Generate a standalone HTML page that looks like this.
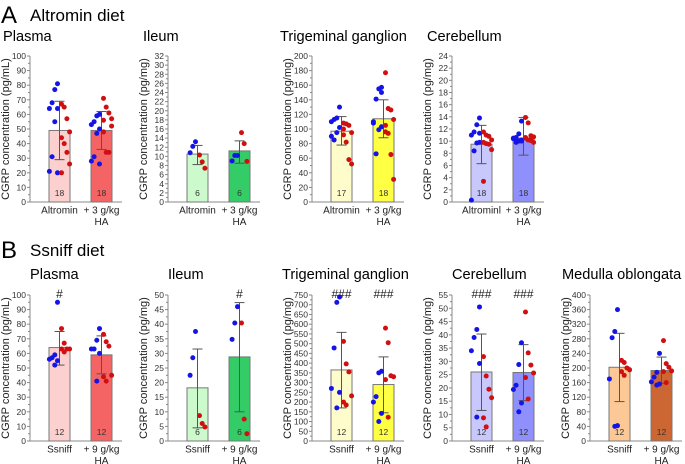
<!DOCTYPE html>
<html><head><meta charset="utf-8"><style>
body{margin:0;background:#fff;}
svg{display:block;font-family:"Liberation Sans",sans-serif;}
</style></head><body>
<svg id="s" width="685" height="464" xmlns="http://www.w3.org/2000/svg"></svg>
<script>
var S=document.getElementById('s');var h='';
function t(x,y,s,fs,extra){h+='<text x="'+x+'" y="'+y+'" font-size="'+fs+'" '+(extra||'')+'>'+s+'</text>';}
t(1,23,'A',24);t(30,21,'Altromin diet',17);
t(1,258,'B',24);t(30,256,'Ssniff diet',17);
function panel(o){
 var ax=o.ax,top=o.top,bot=o.bot,max=o.max,unit=o.unit;
 var sc=function(v){return bot-(v/max)*(bot-top);};
 t(o.tx,o.ty,o.title,14.6);
 h+='<line x1="'+ax+'" y1="'+top+'" x2="'+ax+'" y2="'+bot+'" stroke="#888" stroke-width="1"/>';
 h+='<line x1="'+ax+'" y1="'+bot+'" x2="'+(ax+92)+'" y2="'+bot+'" stroke="#888" stroke-width="1"/>';
 for(var v=0;v<=max+1e-9;v+=o.step){var y=sc(v);
  h+='<line x1="'+(ax-3)+'" y1="'+y+'" x2="'+ax+'" y2="'+y+'" stroke="#888"/>';
  t(ax-4,y+3,Math.round(v*10)/10,8.5,'text-anchor="end" fill="#333"');
  if(v+o.step/2<max){var y2=sc(v+o.step/2);h+='<line x1="'+(ax-2)+'" y1="'+y2+'" x2="'+ax+'" y2="'+y2+'" stroke="#888"/>';}
 }
 var cy=(top+bot)/2;
 t(ax-21,cy,'CGRP concentration ('+unit+')',11,'text-anchor="middle" transform="rotate(-90 '+(ax-21)+' '+cy+')" fill="#222"');
 o.bars.forEach(function(b,i){
  var x0=ax+19+i*42,w=21,c=x0+w/2;
  h+='<rect x="'+x0+'" y="'+sc(b.m)+'" width="'+w+'" height="'+(bot-sc(b.m))+'" fill="'+b.c+'" stroke="#777" stroke-width="1"/>';
  h+='<line x1="'+c+'" y1="'+sc(b.lo)+'" x2="'+c+'" y2="'+sc(b.hi)+'" stroke="#555"/>';
  h+='<line x1="'+(c-5)+'" y1="'+sc(b.lo)+'" x2="'+(c+5)+'" y2="'+sc(b.lo)+'" stroke="#555"/>';
  h+='<line x1="'+(c-5)+'" y1="'+sc(b.hi)+'" x2="'+(c+5)+'" y2="'+sc(b.hi)+'" stroke="#555"/>';
  b.bl.forEach(function(v,j){h+='<circle cx="'+(c-2-(j%4)*2.7)+'" cy="'+sc(v)+'" r="2.5" fill="#1414e6"/>';});
  b.rd.forEach(function(v,j){h+='<circle cx="'+(c+2+(j%4)*2.7)+'" cy="'+sc(v)+'" r="2.5" fill="#d01010"/>';});
  t(c,bot-6,b.n,8.5,'text-anchor="middle" fill="#333"');
  if(b.hash)t(c,top+3,b.hash,12,'text-anchor="middle" fill="#222"');
  var labs=i==0?[o.l0]:[o.l1,'HA'];
  labs.forEach(function(s,k){t(c,bot+11.5+k*11.5,s,10,'text-anchor="middle" fill="#222"');});
 });
}
var A0='Altromin',A1='+ 3 g/kg',B0='Ssniff',B1='+ 9 g/kg';
var aT=56,aB=202,bT=295,bB=441;
panel({ax:30,top:aT,bot:aB,max:100,step:10,unit:'pg/mL',title:'Plasma',tx:3,ty:41,l0:A0,l1:A1,bars:[
 {m:49,lo:29,hi:69,c:'#fdd0d0',n:18,bl:[81,77,68,64,64,55,31,21,20],rd:[67,65,57,48,44,40,34,26,20]},
 {m:49,lo:36,hi:62,c:'#f46464',n:18,bl:[60,59,55,53,50,47,31,28,26],rd:[71,65,61,57,56,34,34,52,48]}]});
panel({ax:168,top:aT,bot:aB,max:32,step:2,unit:'pg/mg',title:'Ileum',tx:143,ty:41,l0:A0,l1:A1,bars:[
 {m:10.5,lo:8.2,hi:12.4,c:'#ccfacc',n:6,bl:[13.2,12.2,10.8],rd:[10.3,8.8,7.4]},
 {m:11.2,lo:8.5,hi:13.4,c:'#33cc66',n:6,bl:[10.2,10.2,9],rd:[15.2,12.8,8.9]}]});
panel({ax:312,top:aT,bot:aB,max:200,step:20,unit:'pg/mg',title:'Trigeminal ganglion',tx:280,ty:41,l0:A0,l1:A1,bars:[
 {m:97,lo:78,hi:117,c:'#fffccc',n:17,bl:[130,115,113,110,102,95,85,90],rd:[108,107,105,95,92,82,58,52,100]},
 {m:114,lo:88,hi:140,c:'#ffff44',n:18,bl:[157,155,141,108,103,99,66,110,150],rd:[177,128,126,113,96,94,65,31,105]}]});
panel({ax:452,top:aT,bot:aB,max:24,step:2,unit:'pg/mg',title:'Cerebellum',tx:427,ty:41,l0:'Altrominl',l1:A1,bars:[
 {m:9.5,lo:6.3,hi:12.6,c:'#c8c8fc',n:18,bl:[13.8,12.7,11.5,11.0,9.8,9.7,8.4,0.3,11.3],rd:[11.5,11,10.8,10.2,9.8,9.6,9.5,8.6,3.4]},
 {m:10.5,lo:7.7,hi:13.9,c:'#9090fc',n:18,bl:[13.3,11.2,10.6,10.5,10.2,10,9.8,10.4,10.0],rd:[13.9,13,10.9,10.7,10.5,10.2,10.1,9.8,10.6]}]});
panel({ax:30,top:bT,bot:bB,max:100,step:10,unit:'pg/mL',title:'Plasma',tx:30,ty:279,l0:B0,l1:B1,bars:[
 {m:64,lo:52,hi:75,c:'#fdd0d0',n:12,hash:'#',bl:[95,59,57,56,55,52],rd:[77,67,63,63,63,61]},
 {m:59,lo:46,hi:72,c:'#f46464',n:12,bl:[77,69,63,63,60,41],rd:[73,68,65,45,44,41]}]});
panel({ax:168,top:bT,bot:bB,max:50,step:5,unit:'pg/mg',title:'Ileum',tx:168,ty:279,l0:B0,l1:B1,bars:[
 {m:18.2,lo:4.5,hi:31.5,c:'#ccfacc',n:6,bl:[37.5,28.5,22.5],rd:[8.7,6,4.8]},
 {m:28.8,lo:10,hi:47.4,c:'#33cc66',n:6,hash:'#',bl:[46,40.4,34.8],rd:[40.4,7.5,2.5]}]});
panel({ax:312,top:bT,bot:bB,max:750,step:50,unit:'pg/mg',title:'Trigeminal ganglion',tx:282,ty:279,l0:B0,l1:B1,bars:[
 {m:365,lo:170,hi:558,c:'#fffccc',n:12,hash:'###',bl:[740,712,478,270,250,170],rd:[512,396,355,232,200,185]},
 {m:290,lo:145,hi:432,c:'#ffff44',n:12,hash:'###',bl:[358,350,228,200,142,100],rd:[580,505,335,330,315,122]}]});
panel({ax:452,top:bT,bot:bB,max:55,step:5,unit:'pg/mg',title:'Cerebellum',tx:452,ty:279,l0:B0,l1:B1,bars:[
 {m:26,lo:11.5,hi:40.3,c:'#c8c8fc',n:12,hash:'###',bl:[50.5,42,39,34,29.2,9],rd:[31.8,24.5,19.5,16.3,8.7,5.3]},
 {m:25.8,lo:15.2,hi:36.3,c:'#9090fc',n:12,hash:'###',bl:[37,28.8,21,19.4,14.3,11],rd:[48.6,33.2,28.6,25.6,23.9,15.8]}]});
panel({ax:590,top:bT,bot:bB,max:400,step:40,unit:'pg/mg',title:'Medulla oblongata',tx:562,ty:279,l0:B0,l1:B1,bars:[
 {m:202,lo:108,hi:295,c:'#fcc896',n:12,bl:[360,300,283,170,42,40],rd:[221,215,200,195,190,180]},
 {m:193,lo:158,hi:230,c:'#cc6633',n:12,bl:[240,188,175,162,156,153],rd:[275,212,202,192,190,160]}]});
S.innerHTML=h;
</script>
</body></html>
